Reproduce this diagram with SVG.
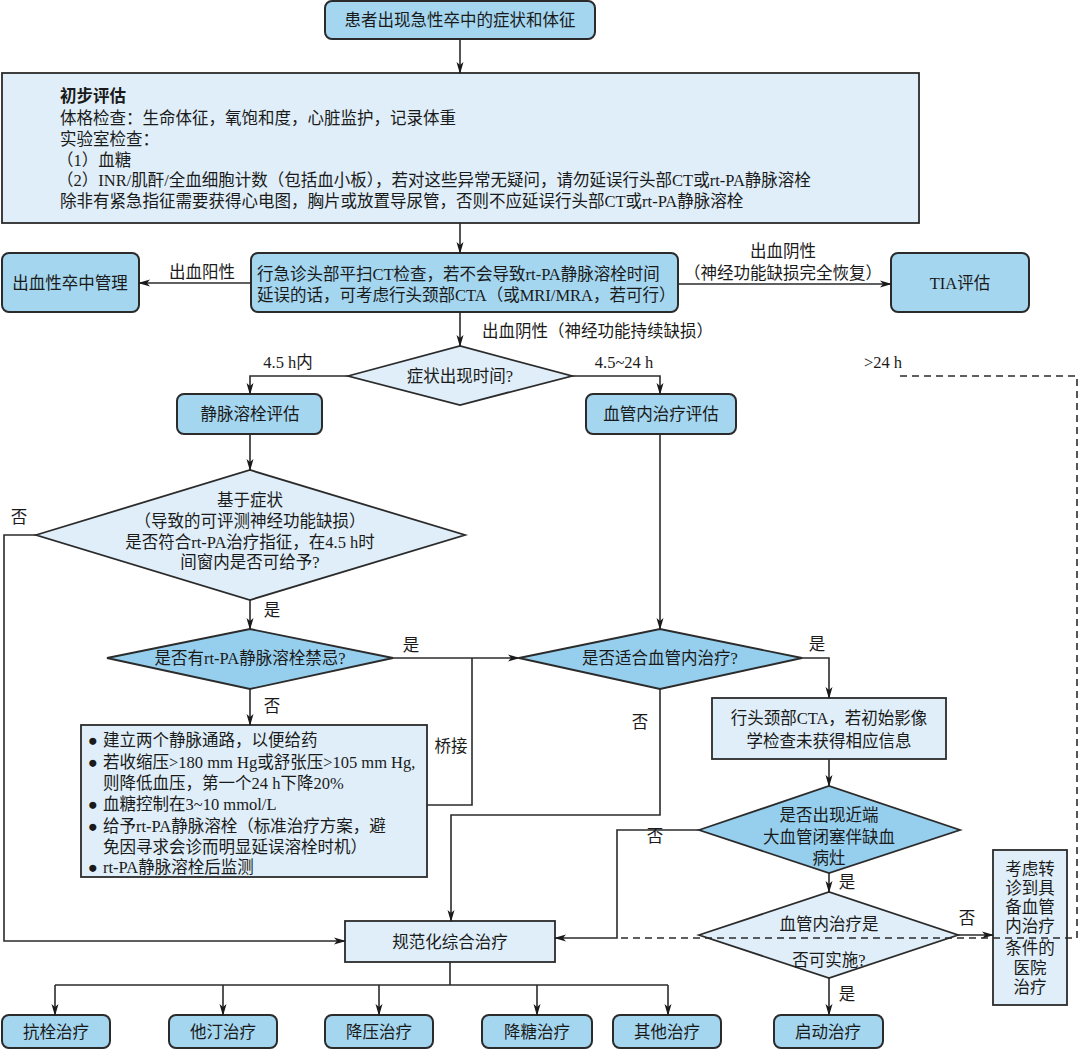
<svg xmlns="http://www.w3.org/2000/svg" width="1080" height="1050" viewBox="0 0 1080 1050">
<defs>
<marker id="arr" markerWidth="12" markerHeight="8" refX="11" refY="4" orient="auto" markerUnits="userSpaceOnUse">
<path d="M0,0.5 L12,4 L0,7.5 L3,4 Z" fill="#1a1a1a"/>
</marker>
<style>
text{font-family:"Liberation Serif","Noto Sans CJK SC",serif;font-size:16.5px;fill:#1a1a1a;dominant-baseline:central}
.c{text-anchor:middle}
.dark{fill:#a4d6f0;stroke:#2b2b2b;stroke-width:2}
.light{fill:#dfeef8;stroke:#2b2b2b;stroke-width:1.8}
.dk{fill:#96cfed;stroke:#2b2b2b;stroke-width:1.8}
.ln{fill:none;stroke:#2b2b2b;stroke-width:1.6}
.ar{fill:none;stroke:#2b2b2b;stroke-width:1.6;marker-end:url(#arr)}
.da{fill:none;stroke:#2b2b2b;stroke-width:1.6;stroke-dasharray:7 5}
.b{font-weight:bold}
</style>
</defs>
<rect width="1080" height="1050" fill="#ffffff"/>

<g id="n-start"><rect class="dark" x="325" y="1" width="270" height="38" rx="7"/><text class="c" x="460" y="20">患者出现急性卒中的症状和体征</text></g>

<g id="n-initial"><rect class="light" x="2" y="73" width="917" height="150"/>
<text x="60" y="96" class="b">初步评估</text>
<text x="60" y="118">体格检查：生命体征，氧饱和度，心脏监护，记录体重</text>
<text x="60" y="139">实验室检查：</text>
<text x="57" y="160">（1）血糖</text>
<text x="57" y="180">（2）INR/肌酐/全血细胞计数（包括血小板），若对这些异常无疑问，请勿延误行头部CT或rt-PA静脉溶栓</text>
<text x="60" y="201">除非有紧急指征需要获得心电图，胸片或放置导尿管，否则不应延误行头部CT或rt-PA静脉溶栓</text>
</g>

<g id="n-ct"><rect class="dark" x="251" y="253" width="427" height="59" rx="7"/>
<text x="257" y="274">行急诊头部平扫CT检查，若不会导致rt-PA静脉溶栓时间</text>
<text x="257" y="295">延误的话，可考虑行头颈部CTA（或MRI/MRA，若可行）</text></g>

<g id="n-hem"><rect class="dark" x="2" y="253" width="137" height="59" rx="7"/><text class="c" x="70" y="283">出血性卒中管理</text></g>
<g id="n-tia"><rect class="dark" x="891" y="253" width="138" height="59" rx="7"/><text class="c" x="960" y="283">TIA评估</text></g>

<g id="n-time"><polygon class="light" points="348,376 460,346 572,376 460,405"/><text class="c" x="460" y="376">症状出现时间?</text></g>

<g id="n-iv"><rect class="dark" x="177" y="394" width="145" height="40" rx="7"/><text class="c" x="250" y="414">静脉溶栓评估</text></g>
<g id="n-evt"><rect class="dark" x="586" y="394" width="150" height="40" rx="7"/><text class="c" x="661" y="414">血管内治疗评估</text></g>

<g id="n-elig"><polygon class="light" points="36,535 250,470 465,535 250,600"/>
<text class="c" x="250" y="500">基于症状</text>
<text class="c" x="250" y="521">（导致的可评测神经功能缺损）</text>
<text class="c" x="250" y="542">是否符合rt-PA治疗指征，在4.5 h时</text>
<text class="c" x="250" y="562">间窗内是否可给予?</text></g>

<g id="n-contra"><polygon class="dk" points="107,658 250,629 393,658 250,689"/><text class="c" x="250" y="658">是否有rt-PA静脉溶栓禁忌?</text></g>

<g id="n-suit"><polygon class="dk" points="519,658 660,629 802,658 660,689"/><text class="c" x="660" y="658">是否适合血管内治疗?</text></g>

<g id="n-bullets"><rect class="light" x="81" y="725" width="346" height="152"/>
<text x="88" y="740">●</text><text x="103" y="740">建立两个静脉通路，以便给药</text>
<text x="88" y="762">●</text><text x="103" y="762">若收缩压&gt;180 mm Hg或舒张压&gt;105 mm Hg,</text>
<text x="103" y="783">则降低血压，第一个24 h下降20%</text>
<text x="88" y="804">●</text><text x="103" y="804">血糖控制在3~10 mmol/L</text>
<text x="88" y="826">●</text><text x="103" y="826">给予rt-PA静脉溶栓（标准治疗方案，避</text>
<text x="103" y="847">免因寻求会诊而明显延误溶栓时机）</text>
<text x="88" y="867">●</text><text x="103" y="867">rt-PA静脉溶栓后监测</text></g>

<g id="n-cta"><rect class="light" x="712" y="698" width="234" height="61"/>
<text class="c" x="829" y="718">行头颈部CTA，若初始影像</text>
<text class="c" x="829" y="741">学检查未获得相应信息</text></g>

<g id="n-lvo"><polygon class="dk" points="699,830 829,786 960,830 829,873"/>
<text class="c" x="829" y="815">是否出现近端</text>
<text class="c" x="829" y="837">大血管闭塞伴缺血</text>
<text class="c" x="829" y="858">病灶</text></g>

<g id="n-feas"><polygon class="light" points="699,935 829,892 958,935 829,978"/>
<text class="c" x="829" y="924">血管内治疗是</text>
<text class="c" x="829" y="960">否可实施?</text></g>

<g id="n-transfer"><rect class="light" x="993" y="850" width="74" height="155"/>
<text class="c" x="1030" y="869">考虑转</text>
<text class="c" x="1030" y="888">诊到具</text>
<text class="c" x="1030" y="907">备血管</text>
<text class="c" x="1030" y="926">内治疗</text>
<text class="c" x="1030" y="948">条件的</text>
<text class="c" x="1030" y="968">医院</text>
<text class="c" x="1030" y="987">治疗</text></g>

<g id="n-std"><rect class="light" x="345" y="921" width="210" height="41"/><text class="c" x="450" y="942">规范化综合治疗</text></g>

<g id="n-t1"><rect class="dark" x="2" y="1015" width="108" height="33" rx="7"/><text class="c" x="56" y="1032">抗栓治疗</text></g>
<g id="n-t2"><rect class="dark" x="169" y="1015" width="108" height="33" rx="7"/><text class="c" x="223" y="1032">他汀治疗</text></g>
<g id="n-t3"><rect class="dark" x="325" y="1015" width="108" height="33" rx="7"/><text class="c" x="379" y="1032">降压治疗</text></g>
<g id="n-t4"><rect class="dark" x="482" y="1015" width="110" height="33" rx="7"/><text class="c" x="537" y="1032">降糖治疗</text></g>
<g id="n-t5"><rect class="dark" x="613" y="1015" width="108" height="33" rx="7"/><text class="c" x="667" y="1032">其他治疗</text></g>
<g id="n-start-tx"><rect class="dark" x="774" y="1015" width="109" height="33" rx="7"/><text class="c" x="828" y="1032">启动治疗</text></g>

<g id="connectors">
<path class="ar" d="M460,39 V73"/>
<path class="ar" d="M460,223 V253"/>
<path class="ar" d="M251,283 H139"/>
<text class="c" x="202" y="272">出血阳性</text>
<path class="ar" d="M678,284 H891"/>
<text class="c" x="783" y="251">出血阴性</text>
<text class="c" x="783" y="273">（神经功能缺损完全恢复）</text>
<path class="ar" d="M460,312 V346"/>
<text x="482" y="331">出血阴性（神经功能持续缺损）</text>
<path class="ar" d="M348,376 H250 V394"/>
<text class="c" x="288" y="362">4.5 h内</text>
<path class="ar" d="M572,376 H660 V394"/>
<text class="c" x="624" y="362">4.5~24 h</text>
<text class="c" x="883" y="362">&gt;24 h</text>
<path class="da" d="M900,376 H1077 V938 H617"/>
<path class="ar" d="M250,434 V470"/>
<path class="ar" d="M36,535 H4 V941 H345"/>
<text class="c" x="19" y="517">否</text>
<path class="ar" d="M250,600 V629"/>
<text class="c" x="272" y="610">是</text>
<path class="ar" d="M393,658 H519"/>
<text class="c" x="411" y="645">是</text>
<path class="ar" d="M250,689 V725"/>
<text class="c" x="272" y="706">否</text>
<path class="ln" d="M427,805 H472 V658"/>
<text class="c" x="451" y="746">桥接</text>
<path class="ar" d="M660,434 V629"/>
<path class="ar" d="M660,689 V815 H451 V921"/>
<text class="c" x="640" y="722">否</text>
<path class="ar" d="M802,658 H829 V698"/>
<text class="c" x="817" y="644">是</text>
<path class="ar" d="M829,759 V786"/>
<path class="ar" d="M699,830 H617 V938 H555"/>
<text class="c" x="655" y="836">否</text>
<path class="ar" d="M829,873 V892"/>
<text class="c" x="847" y="882">是</text>
<path class="ar" d="M958,935 H993"/>
<text class="c" x="967" y="918">否</text>
<path class="ar" d="M829,978 V1015"/>
<text class="c" x="847" y="994">是</text>
<path class="ln" d="M450,962 V985 M55,985 H668"/>
<path class="ar" d="M55,985 V1015"/>
<path class="ar" d="M223,985 V1015"/>
<path class="ar" d="M379,985 V1015"/>
<path class="ar" d="M537,985 V1015"/>
<path class="ar" d="M668,985 V1015"/>
</g>
</svg>
